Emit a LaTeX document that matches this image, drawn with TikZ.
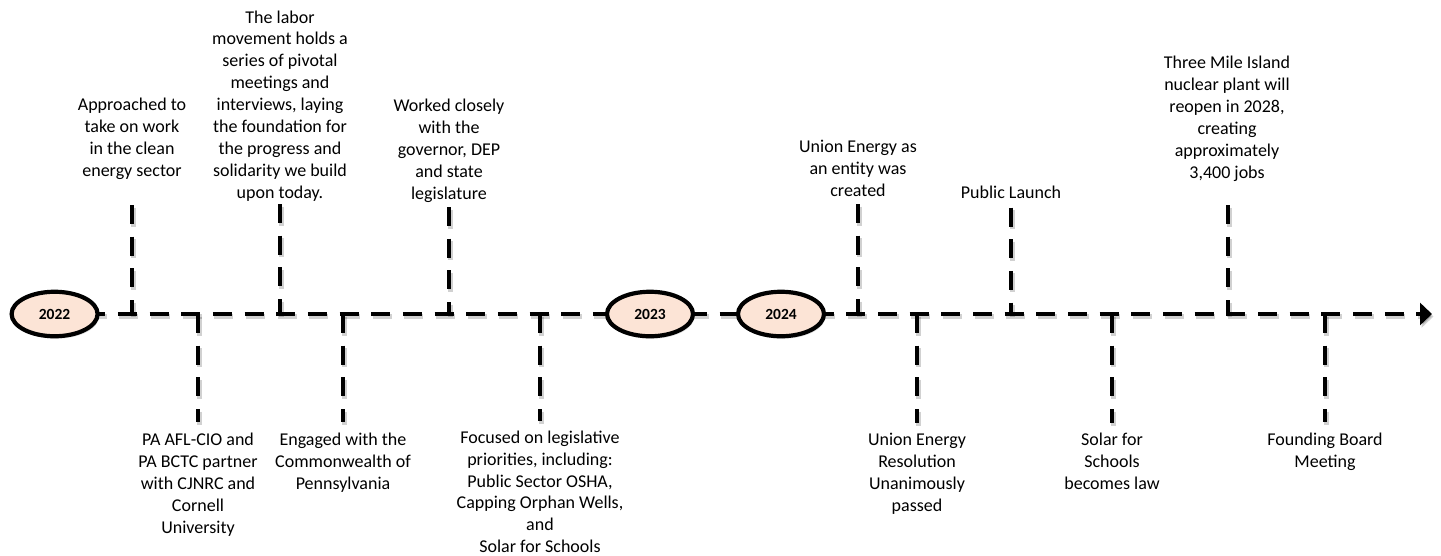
\documentclass[tikz,border=0pt]{standalone}
\usepackage{fontspec}
\setmainfont{Carlito}
\usetikzlibrary{arrows.meta,shapes.geometric,shadows}
\definecolor{peach}{HTML}{FCE4D6}
\begin{document}
\begin{tikzpicture}[x=1pt,y=-1pt,
  dashline/.style={line width=4pt, dash pattern=on 19pt off 12.67pt},
  shadowed/.style={preaction={draw=black, opacity=0.18, line width=5pt,
      dash pattern=on 19pt off 12.67pt, transform canvas={shift={(1.5,2.5)}}}},
  yearnode/.style={ellipse, draw=black, line width=4.2pt, fill=peach,
      minimum width=86pt, minimum height=44.5pt, inner sep=0pt,
      font=\fontsize{15.5}{18}\selectfont\bfseries,
      drop shadow={shadow xshift=1.5pt, shadow yshift=-2.5pt, opacity=0.25}},
  evtext/.style={align=center, inner sep=0pt,
      font=\fontsize{18}{21.9}\selectfont,
      execute at begin node=\strut, execute at end node=\strut},
  upbox/.style={evtext, anchor=south},
  downbox/.style={evtext, anchor=north},
]
\useasboundingbox (0,0) rectangle (1441,555);

% main time line
\coordinate (start) at (54.6,314);
\coordinate (end) at (1432,314);
\draw[dashline, shadowed, -{Triangle[length=12pt,width=22pt]}] (start) -- (end);

% ticks on the main line
\coordinate (m1) at (132,314);
\coordinate (m2) at (280,314);
\coordinate (m3) at (449,314);
\coordinate (m4) at (858,314);
\coordinate (m5) at (1011,314);
\coordinate (m6) at (1228,314);
\coordinate (n1) at (198,314);
\coordinate (n2) at (343,314);
\coordinate (n3) at (540,314);
\coordinate (n4) at (917,314);
\coordinate (n5) at (1112,314);
\coordinate (n6) at (1325,314);

% free ends of the connectors
\coordinate (u1) at (132,205);
\coordinate (u2) at (280,204);
\coordinate (u3) at (449,207);
\coordinate (u4) at (858,204);
\coordinate (u5) at (1011,207.5);
\coordinate (u6) at (1228,205);
\coordinate (d1) at (198,422);
\coordinate (d2) at (343,422);
\coordinate (d3) at (540,421);
\coordinate (d4) at (917,423);
\coordinate (d5) at (1112,423);
\coordinate (d6) at (1325,422);

% connectors
\foreach \i in {1,...,6} {
  \draw[dashline, shadowed] (u\i) -- (m\i);
  \draw[dashline, shadowed] (n\i) -- (d\i);
}

% year ovals
\node[yearnode] (y22) at (54.6,314) {2022};
\node[yearnode] (y23) at (650,314) {2023};
\node[yearnode] (y24) at (781,314) {2024};

% upper texts
\node[upbox] (t1) at (132,183) {Approached to\\take on work\\in the clean\\energy sector};
\node[upbox] (t2) at (280,205) {The labor\\movement holds a\\series of pivotal\\meetings and\\interviews, laying\\the foundation for\\the progress and\\solidarity we build\\upon today.};
\node[upbox] (t3) at (449,206) {Worked closely\\with the\\governor, DEP\\and state\\legislature};
\node[upbox] (t4) at (858,203) {Union Energy as\\an entity was\\created};
\node[upbox] (t5) at (1011,205) {Public Launch};
\node[upbox] (t6) at (1227,185) {Three Mile Island\\nuclear plant will\\reopen in 2028,\\creating\\approximately\\3,400 jobs};

% lower texts
\node[downbox] (b1) at (198,433) {PA AFL-CIO and\\PA BCTC partner\\with CJNRC and\\Cornell\\University};
\node[downbox] (b2) at (343,433) {Engaged with the\\Commonwealth of\\Pennsylvania};
\node[downbox] (b3) at (540,430.5) {Focused on legislative\\priorities, including:\\Public Sector OSHA,\\Capping Orphan Wells,\\and\\Solar for Schools};
\node[downbox] (b4) at (917,433) {Union Energy\\Resolution\\Unanimously\\passed};
\node[downbox] (b5) at (1112,433) {Solar for\\Schools\\becomes law};
\node[downbox] (b6) at (1325,433) {Founding Board\\Meeting};
\end{tikzpicture}
\end{document}
